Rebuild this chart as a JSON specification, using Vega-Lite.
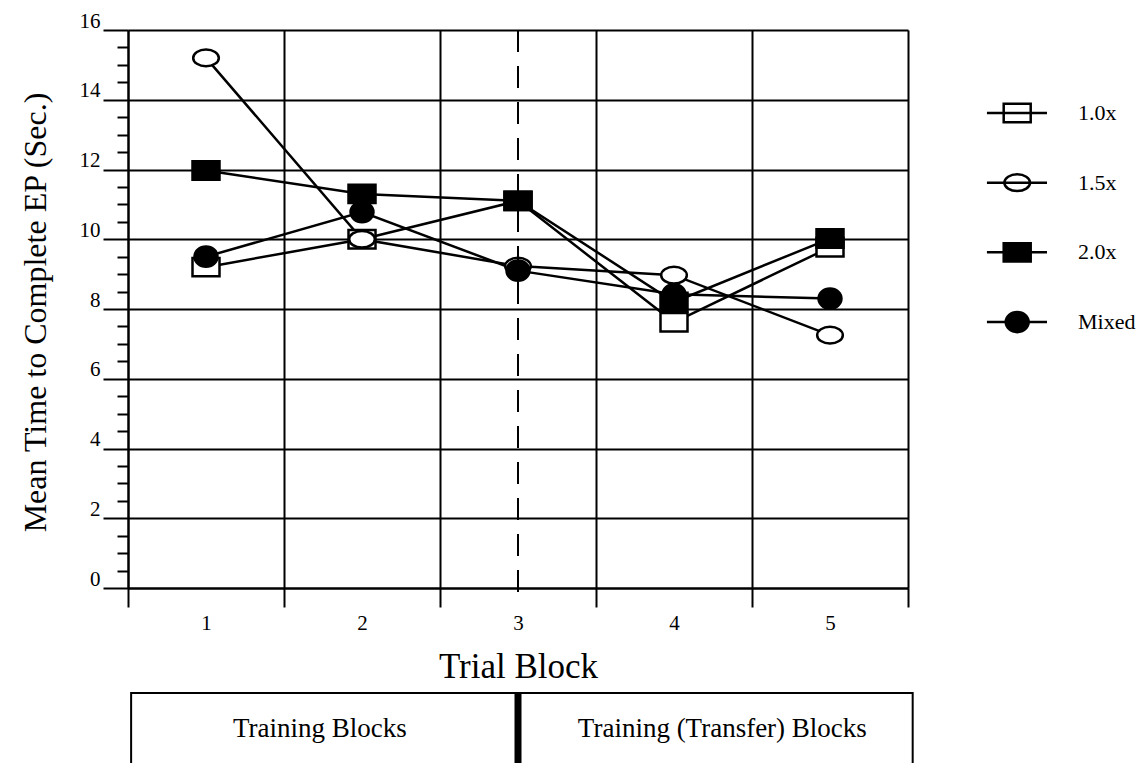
{
  "$schema": "https://vega.github.io/schema/vega-lite/v6.json",
  "width": 780,
  "height": 558,
  "autosize": {"type": "none"},
  "padding": {"left": 128, "top": 30, "right": 239, "bottom": 175},
  "background": "white",
  "config": {"view": {"stroke": null}, "font": "Liberation Serif"},
  "datasets": {
    "obs": [
      {"block": 1, "series": "1.0x", "time": 9.2},
      {"block": 2, "series": "1.0x", "time": 10.0},
      {"block": 3, "series": "1.0x", "time": 11.1},
      {"block": 4, "series": "1.0x", "time": 7.62},
      {"block": 5, "series": "1.0x", "time": 9.77},
      {"block": 1, "series": "1.5x", "time": 15.2},
      {"block": 2, "series": "1.5x", "time": 10.0},
      {"block": 3, "series": "1.5x", "time": 9.23},
      {"block": 4, "series": "1.5x", "time": 8.97},
      {"block": 5, "series": "1.5x", "time": 7.25},
      {"block": 1, "series": "Mixed", "time": 9.5},
      {"block": 2, "series": "Mixed", "time": 10.78},
      {"block": 3, "series": "Mixed", "time": 9.1},
      {"block": 4, "series": "Mixed", "time": 8.42},
      {"block": 5, "series": "Mixed", "time": 8.3},
      {"block": 1, "series": "2.0x", "time": 11.97},
      {"block": 2, "series": "2.0x", "time": 11.3},
      {"block": 3, "series": "2.0x", "time": 11.1},
      {"block": 4, "series": "2.0x", "time": 8.2},
      {"block": 5, "series": "2.0x", "time": 10.02}
    ],
    "legendRows": [
      {"series": "1.0x"},
      {"series": "1.5x"},
      {"series": "2.0x"},
      {"series": "Mixed"}
    ]
  },
  "resolve": {"scale": {"x": "independent", "y": "independent"}},
  "layer": [
    {
      "data": {"name": "obs"},
      "resolve": {"axis": {"y": "independent"}},
      "layer": [
        {
          "encoding": {
            "x": {
              "field": "block",
              "type": "ordinal",
              "scale": {"type": "band", "paddingInner": 0, "paddingOuter": 0},
              "axis": {
                "title": "Trial Block",
                "tickBand": "extent",
                "labelAngle": 0,
                "grid": true,
                "gridColor": "black",
                "gridWidth": 2,
                "gridOpacity": 1,
                "domain": true,
                "domainColor": "black",
                "domainWidth": 2,
                "ticks": true,
                "tickSize": 19,
                "tickColor": "black",
                "tickWidth": 2,
                "labelFont": "Liberation Serif",
                "labelFontSize": 21,
                "labelColor": "black",
                "labelPadding": 5,
                "titleFont": "Liberation Serif",
                "titleFontSize": 35,
                "titleFontWeight": "normal",
                "titleColor": "black",
                "titleBaseline": "alphabetic",
                "titleY": 89
              }
            },
            "y": {
              "field": "time",
              "type": "quantitative",
              "scale": {"domain": [0, 16], "nice": false, "zero": false},
              "axis": {
                "orient": "left",
                "title": "Mean Time to Complete EP (Sec.)",
                "values": [0, 2, 4, 6, 8, 10, 12, 14, 16],
                "grid": true,
                "gridColor": "black",
                "gridWidth": 2,
                "gridOpacity": 1,
                "tickSize": 25,
                "tickColor": "black",
                "tickWidth": 2,
                "domainColor": "black",
                "domainWidth": 2,
                "labelFont": "Liberation Serif",
                "labelFontSize": 21,
                "labelColor": "black",
                "labelAlign": "right",
                "labelBaseline": "alphabetic",
                "labelOffset": -3,
                "labelPadding": 3,
                "titleFont": "Liberation Serif",
                "titleFontSize": 32,
                "titleFontWeight": "normal",
                "titleColor": "black",
                "titleAngle": -90,
                "titleBaseline": "alphabetic",
                "titleAlign": "center",
                "titleX": -83,
                "titleY": 282
              }
            }
          },
          "layer": [
            {
              "mark": {"type": "line", "color": "black", "strokeWidth": 2.5},
              "encoding": {"detail": {"field": "series"}}
            },
            {
              "mark": {"type": "point", "filled": true, "opacity": 1, "stroke": "black", "strokeWidth": 2.5, "size": 729},
              "encoding": {
                "fill": {
                  "field": "series",
                  "type": "nominal",
                  "scale": {"domain": ["1.0x", "1.5x", "2.0x", "Mixed"], "range": ["white", "white", "black", "black"]},
                  "legend": null
                },
                "shape": {
                  "field": "series",
                  "type": "nominal",
                  "scale": {
                    "domain": ["1.0x", "1.5x", "2.0x", "Mixed"],
                    "range": [
                      "M-1,-0.68H1V0.68H-1Z",
                      "M-0.95,0A0.95,0.62 0 1,1 0.95,0A0.95,0.62 0 1,1 -0.95,0Z",
                      "M-1,-0.68H1V0.68H-1Z",
                      "M-0.85,0A0.85,0.75 0 1,1 0.85,0A0.85,0.75 0 1,1 -0.85,0Z"
                    ]
                  },
                  "legend": null
                }
              }
            }
          ]
        },
        {
          "data": {"values": [{"block": 3}]},
          "mark": {"type": "rule", "color": "black", "strokeWidth": 2, "strokeDash": [22, 14]},
          "encoding": {
            "x": {"field": "block", "type": "ordinal"},
            "y": {
              "datum": 16,
              "type": "quantitative",
              "axis": {
                "orient": "left",
                "title": null,
                "values": [0.5, 1, 1.5, 2.5, 3, 3.5, 4.5, 5, 5.5, 6.5, 7, 7.5, 8.5, 9, 9.5, 10.5, 11, 11.5, 12.5, 13, 13.5, 14.5, 15, 15.5],
                "labels": false,
                "grid": false,
                "domain": false,
                "ticks": true,
                "tickSize": 11,
                "tickColor": "black",
                "tickWidth": 2
              }
            },
            "y2": {"datum": -0.2}
          }
        }
      ]
    },
    {
      "data": {"name": "legendRows"},
      "encoding": {
        "y": {
          "field": "series",
          "type": "ordinal",
          "scale": {"type": "point", "padding": 0, "domain": ["1.0x", "1.5x", "2.0x", "Mixed"], "range": [83, 292]},
          "axis": null
        }
      },
      "layer": [
        {
          "mark": {"type": "point", "filled": true, "opacity": 1, "stroke": "black", "strokeWidth": 2.5, "size": 729},
          "encoding": {
            "x": {"datum": 6.2, "type": "quantitative", "scale": {"domain": [0.5, 5.5], "nice": false, "zero": false}, "axis": null},
            "fill": {"field": "series", "type": "nominal", "legend": null},
            "shape": {"field": "series", "type": "nominal", "legend": null}
          }
        },
        {
          "mark": {"type": "rule", "color": "black", "strokeWidth": 2.5},
          "encoding": {
            "x": {"datum": 6.006, "type": "quantitative", "scale": {"domain": [0.5, 5.5], "nice": false, "zero": false}, "axis": null},
            "x2": {"datum": 6.391}
          }
        },
        {
          "mark": {"type": "text", "font": "Liberation Serif", "fontSize": 22, "color": "black", "align": "left", "baseline": "middle"},
          "encoding": {
            "x": {"datum": 6.59, "type": "quantitative", "scale": {"domain": [0.5, 5.5], "nice": false, "zero": false}, "axis": null},
            "text": {"field": "series"}
          }
        }
      ]
    },
    {
      "data": {"values": [{}]},
      "layer": [
        {
          "mark": {"type": "rect", "fill": "white", "fillOpacity": 0, "stroke": "black", "strokeWidth": 2},
          "encoding": {
            "x": {"datum": 0.52, "type": "quantitative", "scale": {"domain": [0.5, 5.5], "nice": false, "zero": false}, "axis": null},
            "x2": {"datum": 5.53},
            "y": {"datum": -3.01, "type": "quantitative", "scale": {"domain": [0, 16], "nice": false, "zero": false}, "axis": null},
            "y2": {"datum": -5.4}
          }
        },
        {
          "mark": {"type": "rule", "color": "black", "strokeWidth": 7},
          "encoding": {
            "x": {"datum": 3.0, "type": "quantitative", "scale": {"domain": [0.5, 5.5], "nice": false, "zero": false}, "axis": null},
            "y": {"datum": -3.01, "type": "quantitative", "scale": {"domain": [0, 16], "nice": false, "zero": false}, "axis": null},
            "y2": {"datum": -5.4}
          }
        },
        {
          "mark": {"type": "text", "font": "Liberation Serif", "fontSize": 27, "color": "black", "align": "center", "baseline": "middle"},
          "encoding": {
            "x": {"datum": 1.73, "type": "quantitative", "scale": {"domain": [0.5, 5.5], "nice": false, "zero": false}, "axis": null},
            "y": {"datum": -4.04, "type": "quantitative", "scale": {"domain": [0, 16], "nice": false, "zero": false}, "axis": null},
            "text": {"value": "Training Blocks"}
          }
        },
        {
          "mark": {"type": "text", "font": "Liberation Serif", "fontSize": 27, "color": "black", "align": "center", "baseline": "middle"},
          "encoding": {
            "x": {"datum": 4.31, "type": "quantitative", "scale": {"domain": [0.5, 5.5], "nice": false, "zero": false}, "axis": null},
            "y": {"datum": -4.04, "type": "quantitative", "scale": {"domain": [0, 16], "nice": false, "zero": false}, "axis": null},
            "text": {"value": "Training (Transfer) Blocks"}
          }
        }
      ]
    }
  ]
}
